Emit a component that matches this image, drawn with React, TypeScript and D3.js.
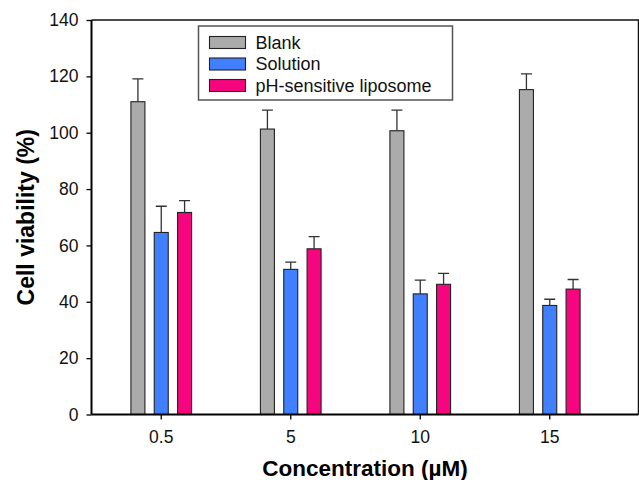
import React, { useEffect, useRef } from "react";
import { axisBottom, axisLeft, scaleBand, scaleLinear, select } from "d3";

const categories = ["0.5", "5", "10", "15"];
const seriesNames = ["Blank", "Solution", "pH-sensitive liposome"];
const blank = [111.0, 101.3, 100.7, 115.3];
const blankErr = [8.1, 6.7, 7.3, 5.6];
const solution = [64.6, 51.5, 42.8, 38.7];
const solutionErr = [9.3, 2.6, 4.9, 2.2];
const liposome = [71.7, 58.8, 46.2, 44.5];
const liposomeErr = [4.2, 4.3, 3.9, 3.4];
const yTicks = [0, 20, 40, 60, 80, 100, 120, 140];

const colors = ["#ababab", "#4080ff", "#f5057e"];

const width = 639;
const height = 480;
const frame = { left: 91.5, right: 638.5, top: 20, bottom: 414.5 };

const App = () => {
  const svgRef = useRef<SVGSVGElement>(null);

  useEffect(() => {
    const svg = select(svgRef.current);
    svg.selectAll("*").remove();

    const values = [blank, solution, liposome];
    const errors = [blankErr, solutionErr, liposomeErr];

    const xScale = scaleBand()
      .domain(categories)
      .range([frame.left + 5, frame.right - 24]);

    // bars inside a group, blue one centred on the tick
    const subScale = scaleBand()
      .domain(seriesNames)
      .range([-35, 35])
      .paddingInner(0.4)
      .paddingOuter(0.2);

    const yScale = scaleLinear()
      .domain([0, 140])
      .range([frame.bottom, frame.top]);

    const font = "'Liberation Sans', Arial, Helvetica, sans-serif";

    // frame (top + right)
    svg
      .append("path")
      .attr("d", `M${frame.left},${frame.top}H${frame.right}V${frame.bottom}`)
      .attr("fill", "none")
      .attr("stroke", "#111")
      .attr("stroke-width", 1.5);

    // bars
    seriesNames.forEach((name, s) => {
      const g = svg.append("g");
      const x0 = (i: number) =>
        xScale(categories[i])! + xScale.bandwidth() / 2 + subScale(name)!;

      g.selectAll("rect")
        .data(values[s])
        .join("rect")
        .attr("x", (v, i) => x0(i))
        .attr("y", v => yScale(v))
        .attr("width", subScale.bandwidth())
        .attr("height", v => frame.bottom - yScale(v))
        .attr("fill", colors[s])
        .attr("stroke", "#222")
        .attr("stroke-width", 1.1);

      const cx = (i: number) => x0(i) + subScale.bandwidth() / 2;

      g.selectAll(".err")
        .data(values[s])
        .join("path")
        .attr("class", "err")
        .attr("d", (v, i) => {
          const top = yScale(v + errors[s][i]);
          return `M${cx(i)},${yScale(v)}V${top}M${cx(i) - 5.5},${top}H${cx(i) + 5.5}`;
        })
        .attr("fill", "none")
        .attr("stroke", "#333")
        .attr("stroke-width", 1.3);
    });

    // y axis
    const yAxis = axisLeft(yScale).tickValues(yTicks).tickSize(5).tickPadding(8);
    const yg = svg
      .append("g")
      .attr("transform", `translate(${frame.left},0)`)
      .call(yAxis);
    yg.select(".domain").attr("d", `M0,${frame.top}V${frame.bottom}`).attr("stroke-width", 2);
    yg.selectAll("line").attr("stroke-width", 1.3);
    yg.selectAll("text")
      .attr("font-family", font)
      .attr("font-size", 17.5)
      .attr("fill", "#111");

    // x axis
    const xAxis = axisBottom(xScale).tickSize(5).tickPadding(11);
    const xg = svg
      .append("g")
      .attr("transform", `translate(0,${frame.bottom})`)
      .call(xAxis);
    xg.select(".domain").attr("d", `M${frame.left},0H${frame.right}`).attr("stroke-width", 2);
    xg.selectAll("line").attr("stroke-width", 1.3);
    xg.selectAll("text")
      .attr("font-family", font)
      .attr("font-size", 17.5)
      .attr("fill", "#111");

    // axis titles
    svg
      .append("text")
      .attr("x", (frame.left + frame.right) / 2)
      .attr("y", 475.5)
      .attr("text-anchor", "middle")
      .attr("font-family", font)
      .attr("font-weight", "bold")
      .attr("font-size", 22.5)
      .text("Concentration (µM)");

    svg
      .append("text")
      .attr("transform", `translate(33.5,${(frame.top + frame.bottom) / 2}) rotate(-90)`)
      .attr("text-anchor", "middle")
      .attr("font-family", font)
      .attr("font-weight", "bold")
      .attr("font-size", 23)
      .text("Cell viability (%)");

    // legend
    const legend = svg.append("g").attr("transform", "translate(198.5,26)");
    legend
      .append("rect")
      .attr("width", 254)
      .attr("height", 74)
      .attr("fill", "#fff")
      .attr("stroke", "#555")
      .attr("stroke-width", 1.5);
    seriesNames.forEach((name, s) => {
      const row = legend.append("g").attr("transform", `translate(11,${10.5 + s * 21.5})`);
      row
        .append("rect")
        .attr("width", 36)
        .attr("height", 12)
        .attr("fill", colors[s])
        .attr("stroke", "#222")
        .attr("stroke-width", 1.1);
      row
        .append("text")
        .attr("x", 46)
        .attr("y", 12)
        .attr("font-family", font)
        .attr("font-size", 18)
        .attr("fill", "#111")
        .text(name);
    });
  }, []);

  return (
    <svg
      ref={svgRef}
      width={width}
      height={height}
      style={{ position: "absolute", left: 0, top: 0, background: "#fff" }}
    />
  );
};

export default App;
